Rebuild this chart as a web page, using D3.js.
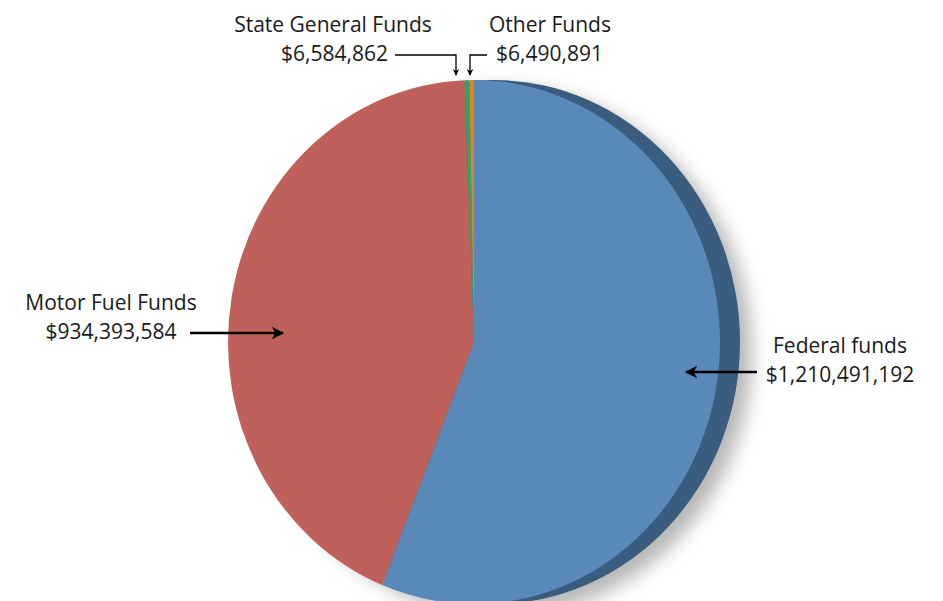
<!DOCTYPE html>
<html>
<head>
<meta charset="utf-8">
<script src="https://cdn.jsdelivr.net/npm/d3@7"></script>
<style>
  body { margin: 0; background: #fff; }
  svg { display: block; }
  text { font-family: "Open Sans", sans-serif; font-size: 21px; fill: #1a1a1a; }
</style>
</head>
<body>
<svg id="chart" width="943" height="601"></svg>
<script>
// data
const categories = ["Federal funds", "Motor Fuel Funds", "State General Funds", "Other Funds"];
const amounts = [1210491192, 934393584, 6584862, 6490891];
const sliceColors = ["#5889b9", "#c0605a", "#2aa86a", "#e8821e"];

// label placement (annotation layout, not data)
const labelLayout = [
    {x: 840, y: 353, arrow: [[757, 372], [686, 372]]},
    {x: 111, y: 310, arrow: [[190, 333], [283, 333]]},
    {x: 333, y: 32, valueAnchor: "end", valueX: 388, arrow: [[395, 55], [456, 55], [456, 75]]},
    {x: 550, y: 32, valueAnchor: "start", valueX: 496, arrow: [[487, 55], [470, 55], [470, 75]]}
];

const svg = d3.select("svg#chart");
const cx = 474, cy = 342, rx = 246, ry = 262, depth = 20;

const defs = svg.append("defs");
defs.append("filter")
    .attr("id", "blur")
    .attr("x", "-20%").attr("y", "-20%").attr("width", "140%").attr("height", "140%")
    .append("feGaussianBlur")
    .attr("stdDeviation", 9);

defs.append("marker")
    .attr("id", "arrow")
    .attr("viewBox", "0 0 10 10")
    .attr("refX", 9).attr("refY", 5)
    .attr("markerWidth", 5).attr("markerHeight", 5)
    .attr("orient", "auto-start-reverse")
    .attr("markerUnits", "strokeWidth")
    .append("path")
    .attr("d", "M0,0 L10,5 L0,10 L3,5 Z")
    .attr("fill", "#000");

// soft shadow
svg.append("ellipse")
    .attr("cx", cx + depth + 8).attr("cy", cy + 10)
    .attr("rx", rx + 4).attr("ry", ry + 2)
    .attr("fill", "#9a9a9a")
    .attr("opacity", 0.7)
    .attr("filter", "url(#blur)");

// side of the tilted pie
svg.append("ellipse")
    .attr("cx", cx + depth).attr("cy", cy)
    .attr("rx", rx).attr("ry", ry)
    .attr("fill", "#3a5c7e");

const pie = d3.pie().sort(null).value(d => d);
const arcs = pie(amounts);
const arc = d3.arc().innerRadius(0).outerRadius(ry);

svg.append("g")
    .attr("transform", `translate(${cx},${cy}) scale(${rx / ry},1)`)
    .selectAll("path")
    .data(arcs)
    .join("path")
        .attr("d", arc)
        .attr("fill", (d, i) => sliceColors[i]);

const fmt = d3.format("$,");

const labels = svg.append("g");
categories.forEach((name, i) => {
    const l = labelLayout[i];
    labels.append("text")
        .attr("x", l.x).attr("y", l.y)
        .attr("text-anchor", "middle")
        .text(name);
    labels.append("text")
        .attr("x", l.valueX || l.x).attr("y", l.y + 29)
        .attr("text-anchor", l.valueAnchor || "middle")
        .text(fmt(amounts[i]));
    labels.append("path")
        .attr("d", d3.line()(l.arrow))
        .attr("fill", "none")
        .attr("stroke", "#000")
        .attr("stroke-width", i < 2 ? 2.5 : 1.3)
        .attr("marker-end", "url(#arrow)");
});
</script>
</body>
</html>
